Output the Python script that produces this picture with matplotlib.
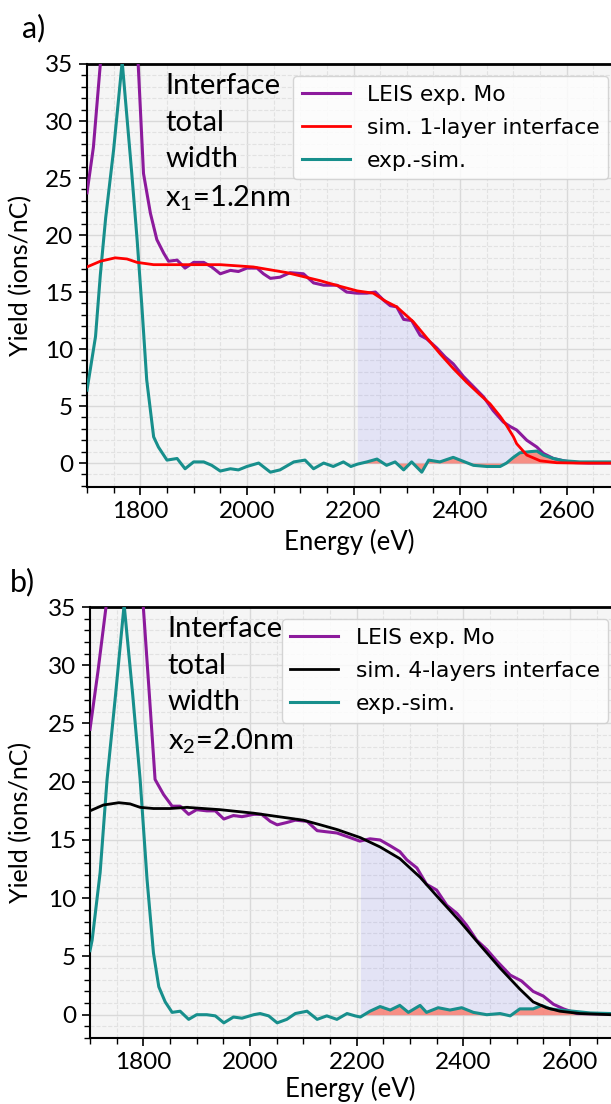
import matplotlib
matplotlib.use("Agg")
import matplotlib.pyplot as plt
import matplotlib.ticker as mtick
import numpy as np

plt.rcParams["font.family"] = ["Lato", "DejaVu Sans"]
plt.rcParams["mathtext.fontset"] = "custom"
plt.rcParams["mathtext.rm"] = "Lato"
plt.rcParams["mathtext.it"] = "Lato:italic"

# ---- panel a) data ----
e_exp_a = [1700, 1712, 1725, 1745, 1765, 1786, 1796, 1806, 1819, 1831, 1844, 1853,
           1869, 1884, 1900, 1919, 1934, 1950, 1969, 1984, 2000, 2019, 2031, 2044,
           2062, 2081, 2106, 2125, 2144, 2169, 2187, 2206, 2225, 2241, 2256, 2269,
           2281, 2294, 2309, 2325, 2337, 2356, 2372, 2387, 2406, 2425, 2444, 2462,
           2481, 2494, 2506, 2525, 2544, 2556, 2575, 2594, 2612, 2640, 2683]
y_exp_a = [23.7, 27.7, 35.0, 46.0, 52.0, 45.0, 35.0, 25.4, 21.9, 19.6, 18.4, 17.7,
           17.8, 17.1, 17.6, 17.6, 17.2, 16.6, 16.9, 16.8, 17.1, 17.1, 16.6, 16.2,
           16.3, 16.7, 16.6, 15.8, 15.6, 15.6, 15.0, 14.9, 14.9, 15.0, 14.3, 13.8,
           13.7, 12.6, 12.5, 11.2, 10.9, 10.1, 9.3, 8.7, 7.6, 6.7, 5.8, 4.6,
           3.6, 3.2, 2.9, 2.0, 1.4, 0.85, 0.4, 0.2, 0.05, 0.0, 0.0]

e_sim_a = [1700, 1725, 1753, 1775, 1794, 1825, 1887, 1950, 2012, 2075, 2137, 2175,
           2207, 2237, 2260, 2281, 2312, 2337, 2362, 2387, 2412, 2437, 2456, 2475,
           2487, 2500, 2506, 2525, 2550, 2581, 2620, 2683]
y_sim_a = [17.2, 17.7, 18.0, 17.9, 17.6, 17.4, 17.4, 17.4, 17.2, 16.7, 16.0, 15.5,
           15.1, 14.9, 14.2, 13.7, 12.4, 11.0, 9.6, 8.3, 7.1, 6.0, 5.2, 4.1,
           3.3, 2.3, 1.7, 0.7, 0.2, 0.03, 0.0, 0.0]

e_diff_a = [1700, 1716, 1725, 1735, 1750, 1766, 1784, 1794, 1803, 1812, 1825, 1834,
            1850, 1869, 1884, 1900, 1919, 1934, 1950, 1969, 1984, 2000, 2022, 2044,
            2062, 2088, 2109, 2125, 2144, 2162, 2181, 2195, 2207, 2225, 2244, 2262,
            2278, 2294, 2309, 2328, 2341, 2362, 2387, 2400, 2425, 2450, 2475, 2487,
            2500, 2512, 2531, 2544, 2556, 2575, 2594, 2625, 2683]
y_diff_a = [6.4, 11.1, 16.5, 21.5, 27.5, 35.2, 25.4, 19.6, 13.7, 7.3, 2.3, 1.4,
            0.26, 0.4, -0.5, 0.1, 0.1, -0.2, -0.7, -0.5, -0.6, -0.3, 0.0, -0.8,
            -0.6, 0.1, 0.26, -0.5, 0.0, -0.3, 0.1, -0.3, -0.1, 0.1, 0.35, -0.2,
            0.1, -0.6, 0.1, -0.8, 0.26, 0.1, 0.5, 0.26, -0.2, -0.3, -0.3, 0.0,
            0.5, 0.9, 1.0, 1.05, 0.7, 0.4, 0.2, 0.1, 0.1]

# ---- panel b) data ----
e_exp_b = [1700, 1715, 1730, 1750, 1765, 1785, 1800, 1812, 1822, 1838, 1854, 1869,
           1885, 1900, 1919, 1935, 1951, 1969, 1985, 2007, 2022, 2038, 2051, 2069,
           2085, 2107, 2126, 2144, 2163, 2188, 2206, 2225, 2244, 2263, 2281, 2294,
           2313, 2331, 2350, 2369, 2388, 2406, 2425, 2444, 2463, 2488, 2509, 2531,
           2550, 2569, 2588, 2613, 2677]
y_exp_b = [24.5, 29.5, 35.0, 46.0, 52.0, 46.0, 35.0, 27.0, 20.2, 18.9, 17.9, 17.9,
           17.2, 17.6, 17.5, 17.5, 16.8, 17.1, 17.0, 17.2, 17.2, 16.6, 16.3, 16.5,
           16.7, 16.6, 15.8, 15.7, 15.6, 15.2, 14.9, 15.1, 15.0, 14.5, 14.0, 13.3,
           12.6, 11.2, 10.7, 9.4, 8.7, 7.7, 6.4, 5.6, 4.6, 3.4, 2.9, 2.0,
           1.6, 0.9, 0.5, 0.1, 0.05]

e_sim_b = [1700, 1725, 1754, 1775, 1794, 1819, 1850, 1882, 1944, 2007, 2069, 2100,
           2132, 2163, 2207, 2244, 2281, 2319, 2356, 2394, 2431, 2469, 2506, 2531,
           2556, 2581, 2619, 2677]
y_sim_b = [17.5, 18.0, 18.2, 18.1, 17.8, 17.7, 17.7, 17.8, 17.6, 17.3, 16.9, 16.7,
           16.3, 15.9, 15.2, 14.4, 13.4, 11.8, 9.9, 8.0, 6.0, 4.0, 2.2, 1.1,
           0.6, 0.3, 0.1, 0.0]

e_diff_b = [1700, 1704, 1719, 1732, 1748, 1764, 1780, 1794, 1807, 1819, 1829, 1841,
            1854, 1869, 1885, 1900, 1919, 1935, 1951, 1969, 1985, 2007, 2019, 2035,
            2051, 2069, 2085, 2107, 2126, 2144, 2163, 2182, 2197, 2207, 2225, 2244,
            2263, 2281, 2297, 2319, 2331, 2353, 2375, 2397, 2419, 2444, 2469, 2488,
            2506, 2531, 2547, 2563, 2581, 2606, 2638, 2677]
y_diff_b = [5.5, 6.4, 12.2, 20.2, 27.5, 35.2, 27.5, 20.2, 11.6, 5.3, 2.4, 1.1,
            0.2, 0.3, -0.4, 0.0, 0.0, -0.1, -0.7, -0.2, -0.3, 0.0, 0.1, -0.1,
            -0.7, -0.4, 0.1, 0.3, -0.4, -0.1, -0.4, 0.1, -0.1, -0.2, 0.3, 0.7,
            0.4, 0.8, 0.2, 0.8, 0.2, 0.6, 0.4, 0.6, 0.2, 0.0, 0.1, -0.1,
            0.5, 0.5, 0.8, 0.5, 0.4, 0.3, 0.15, 0.1]

fill_start = 2207

purple = "#8c1a9c"
teal = "#178f8c"


def draw_panel(ax, e_exp, y_exp, e_sim, y_sim, e_diff, y_diff, sim_color, sim_label,
               note, xmax, ymin):
    e_sim = np.array(e_sim)
    y_sim = np.array(y_sim)
    e_diff = np.array(e_diff)
    y_diff = np.array(y_diff)

    ax.set_facecolor("#f5f5f5")
    ax.fill_between(e_sim, 0, y_sim, where=e_sim >= fill_start,
                    color="blue", alpha=0.07, lw=0, zorder=1)
    ax.fill_between(e_diff, 0, y_diff, where=e_diff >= fill_start,
                    color="salmon", alpha=0.85, lw=0, zorder=1)

    ax.plot(e_exp, y_exp, color=purple, lw=2.2, label="LEIS exp. Mo", zorder=3)
    ax.plot(e_sim, y_sim, color=sim_color, lw=2.0, label=sim_label, zorder=4)
    ax.plot(e_diff, y_diff, color=teal, lw=2.2, label="exp.-sim.", zorder=3)

    ax.set_xlim(1700, xmax)
    ax.set_ylim(ymin, 35)
    ax.xaxis.set_major_locator(mtick.MultipleLocator(200))
    ax.xaxis.set_minor_locator(mtick.MultipleLocator(50))
    ax.yaxis.set_major_locator(mtick.MultipleLocator(5))
    ax.yaxis.set_minor_locator(mtick.MultipleLocator(1))
    ax.set_axisbelow(True)
    ax.grid(which="major", color="#d9d9d9", lw=1.0, ls="-")
    ax.grid(which="minor", color="#e2e2e2", lw=0.8, ls="--")

    ax.tick_params(which="major", length=6, width=1.2, labelsize=17.5, pad=4)
    ax.tick_params(which="minor", length=4, width=1.0)
    ax.spines["right"].set_visible(False)
    for s in ["left", "bottom"]:
        ax.spines[s].set_linewidth(1.5)
    ax.spines["top"].set_linewidth(2.0)

    ax.set_xlabel("Energy (eV)", fontsize=18.5)
    ax.set_ylabel("Yield (ions/nC)", fontsize=18)

    ax.text(0.149, 0.978, note, transform=ax.transAxes, ha="left", va="top",
            fontsize=21, linespacing=1.5, zorder=6)

    leg = ax.legend(loc="upper right", bbox_to_anchor=(0.995, 0.972),
                    prop={"family": "DejaVu Sans", "size": 15.7},
                    labelspacing=0.6, handlelength=2.2, borderpad=0.4,
                    borderaxespad=0.0)
    leg.set_zorder(7)


fig = plt.figure(figsize=(6.11, 11.04), dpi=100)

ax1 = fig.add_axes([87 / 611, 1 - 487 / 1104, 524 / 611, 423 / 1104])
draw_panel(ax1, e_exp_a, y_exp_a, e_sim_a, y_sim_a, e_diff_a, y_diff_a, "red",
           "sim. 1-layer interface", "Interface\ntotal\nwidth\nx$_1$=1.2nm",
           2683, -2.1)
ax1.xaxis.set_label_coords(0.5, -0.1)
ax1.yaxis.set_label_coords(-0.105, 0.5)

ax2 = fig.add_axes([90 / 611, 1 - 1038 / 1104, 521 / 611, 431 / 1104])
draw_panel(ax2, e_exp_b, y_exp_b, e_sim_b, y_sim_b, e_diff_b, y_diff_b, "black",
           "sim. 4-layers interface", "Interface\ntotal\nwidth\nx$_2$=2.0nm",
           2677, -2.0)
ax2.xaxis.set_label_coords(0.5, -0.088)
ax2.yaxis.set_label_coords(-0.111, 0.5)

fig.text(22 / 611, 1 - 28 / 1104, "a)", fontsize=22, ha="left", va="center")
fig.text(10 / 611, 1 - 582 / 1104, "b)", fontsize=22, ha="left", va="center")

fig.savefig("out.png", dpi=100)
